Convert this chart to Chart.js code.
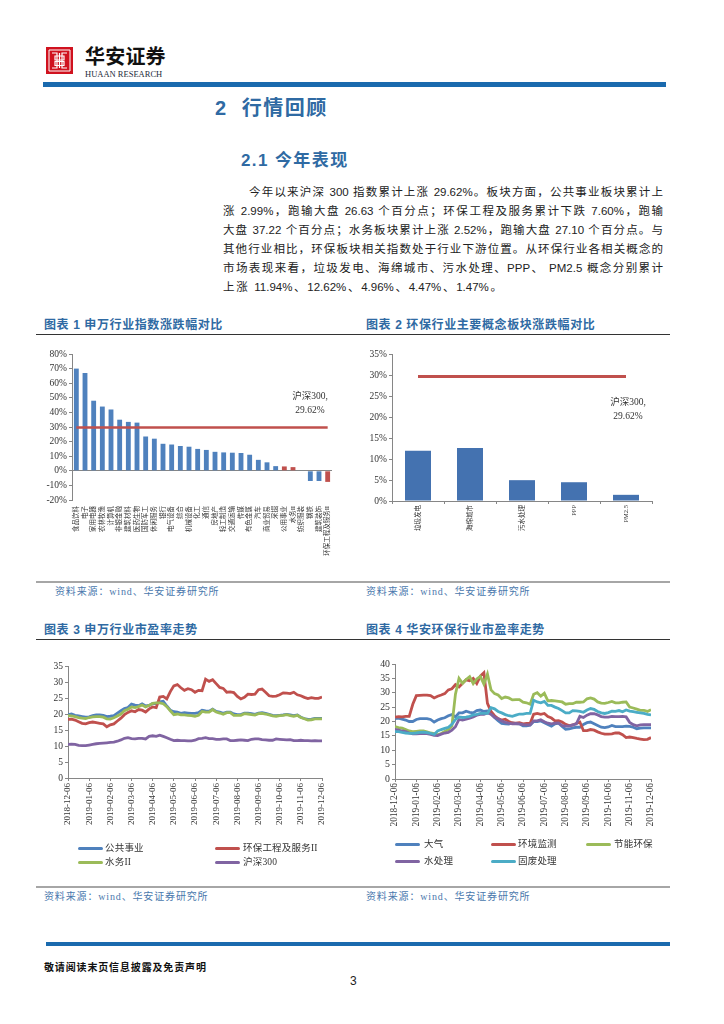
<!DOCTYPE html>
<html lang="zh"><head><meta charset="utf-8">
<script src="https://cdn.jsdelivr.net/npm/chart.js@4"></script>
<style>
html,body{margin:0;padding:0;background:#fff;width:724px;height:1024px;overflow:hidden}
body{position:relative;font-family:"Liberation Sans","Noto Sans CJK SC",sans-serif}
.a{position:absolute;white-space:nowrap}
canvas.c{position:absolute}
.band{position:absolute;background:#1a6aae}
.cap{position:absolute;white-space:nowrap;font:bold 12px "Liberation Sans","Noto Sans CJK SC";color:#2f6aa3;letter-spacing:.6px;line-height:14px}
.rule{position:absolute;height:1px;background:#333}
.grule{position:absolute;height:2px;background:#a6a6a6}
.src{position:absolute;white-space:nowrap;font:10px "Liberation Serif","Noto Sans CJK SC";color:#4a78ad;letter-spacing:.85px;line-height:12px}
.ln{position:absolute;font:11.5px/16px "Liberation Sans","Noto Sans CJK SC";color:#222;text-align:justify;text-align-last:justify;white-space:normal}
.note{position:absolute;font:9.5px/13.5px "Liberation Serif","Noto Sans CJK SC";color:#333;text-align:center;transform:translateX(-50%);white-space:nowrap}
.lg{position:absolute;white-space:nowrap;font:9.5px/12px "Liberation Serif","Noto Sans CJK SC";color:#333;letter-spacing:.2px}
.sw{position:absolute;height:3px;border-radius:1.5px}
</style></head><body>

<svg class="a" style="left:46px;top:47px" width="27" height="27" viewBox="0 0 27 27">
<rect width="27" height="27" fill="#d0121f"/>
<g fill="none" stroke="#fff" stroke-width="1.2">
<path d="M3 3H24V24H3Z" stroke-width="1"/>
<path d="M6 6H11V21H6M21 6H16V21H21"/>
<path d="M9 9H18V13H9ZM9 14.5H18V18.5H9ZM13.5 6V21"/>
</g></svg>
<div class="a" style="left:85px;top:44px;font:bold 20px/24px 'Noto Sans CJK SC';letter-spacing:.2px;color:#111">华安证券</div>
<div class="a" style="left:85px;top:69px;font:8.5px/10px 'Liberation Serif';color:#1d2a3a">HUAAN RESEARCH</div>
<div class="band" style="left:43px;top:82px;width:623px;height:5px"></div>

<div class="a" style="left:215px;top:96px;font:bold 20px/24px 'Liberation Sans','Noto Sans CJK SC';color:#2f6aa3;letter-spacing:1.5px">2&nbsp;&nbsp;行情回顾</div>
<div class="a" style="left:241px;top:150px;font:bold 17px/22px 'Liberation Sans','Noto Sans CJK SC';color:#2f6aa3;letter-spacing:1.4px">2.1 今年表现</div>

<div class="ln" style="left:249px;top:184px;width:414px">今年以来沪深 300 指数累计上涨 29.62%。板块方面，公共事业板块累计上</div>
<div class="ln" style="left:223px;top:203px;width:440px">涨 2.99%，跑输大盘 26.63 个百分点；环保工程及服务累计下跌 7.60%，跑输</div>
<div class="ln" style="left:223px;top:222px;width:440px">大盘 37.22 个百分点；水务板块累计上涨 2.52%，跑输大盘 27.10 个百分点。与</div>
<div class="ln" style="left:223px;top:241px;width:440px">其他行业相比，环保板块相关指数处于行业下游位置。从环保行业各相关概念的</div>
<div class="ln" style="left:223px;top:260px;width:440px">市场表现来看，垃圾发电、海绵城市、污水处理、PPP、 PM2.5 概念分别累计</div>
<div class="ln" style="left:223px;top:279px;width:279px">上涨 11.94%、12.62%、4.96%、4.47%、1.47%。</div>

<div class="cap" style="left:44px;top:318px">图表 1 申万行业指数涨跌幅对比</div>
<div class="cap" style="left:366px;top:318px">图表 2 环保行业主要概念板块涨跌幅对比</div>
<div class="rule" style="left:36px;top:334px;width:634px"></div>
<div class="grule" style="left:36px;top:581px;width:634px"></div>
<div class="src" style="left:55px;top:586px">资料来源：wind、华安证券研究所</div>
<div class="src" style="left:366px;top:586px">资料来源：wind、华安证券研究所</div>

<div class="cap" style="left:44px;top:623px">图表 3 申万行业市盈率走势</div>
<div class="cap" style="left:366px;top:623px">图表 4 华安环保行业市盈率走势</div>
<div class="rule" style="left:36px;top:639px;width:634px"></div>
<div class="grule" style="left:36px;top:886px;width:634px"></div>
<div class="src" style="left:44px;top:891px">资料来源：wind、华安证券研究所</div>
<div class="src" style="left:366px;top:891px">资料来源：wind、华安证券研究所</div>

<canvas class="c" id="c1"></canvas>
<canvas class="c" id="c2"></canvas>
<canvas class="c" id="c3"></canvas>
<canvas class="c" id="c4"></canvas>

<div class="note" style="left:310px;top:390px">沪深300,<br>29.62%</div>
<div class="note" style="left:628px;top:396px">沪深300,<br>29.62%</div>

<div id="leg"></div>

<div class="band" style="left:46px;top:942px;width:624px;height:4px"></div>
<div class="a" style="left:44px;top:960px;font:bold 10px/14px 'Noto Sans CJK SC';letter-spacing:.85px;color:#111">敬请阅读末页信息披露及免责声明</div>
<div class="a" style="left:350px;top:973px;font:12px/16px 'Liberation Sans';color:#222">3</div>

<script>
const serif='"Liberation Serif","Noto Sans CJK SC"';
const axisGrey='#868686', textCol='#333';
const BLUE='#4f81bd', RED='#c0504d', GREEN='#9bbb59', PURPLE='#8064a2', TEAL='#4bacc6';

/* chart 1 */
const industries=['食品饮料','电子','家用电器','农林牧渔','计算机','非银金融','建筑材料','医药生物','国防军工','休闲服务','银行','电气设备','综合','机械设备','化工','通信','房地产','轻工制造','交通运输','传媒','有色金属','汽车','商业贸易','采掘','公用事业','水务II','纺织服装','钢铁','建筑装饰','环保工程及服务II'];
const industryChange=[70,67,48,44,42,35,33.5,33,23.5,22,18.5,18,17,16.5,15,14.3,13,12.6,12.4,12.2,11,7.5,5.8,3.2,2.99,2.52,0.3,-7,-7,-7.6];
const highlighted=['公用事业','水务II','环保工程及服务II'];
const hs300Change=29.62;

/* chart 2 */
const concepts=['垃圾发电','海绵城市','污水处理','PPP','PM2.5'];
const conceptChange=[11.94,12.62,4.96,4.47,1.47];

/* charts 3 and 4: six readings per month, 2018-12-06 to 2019-12-06 */
const months=['2018-12-06','2019-01-06','2019-02-06','2019-03-06','2019-04-06','2019-05-06','2019-06-06','2019-07-06','2019-08-06','2019-09-06','2019-10-06','2019-11-06','2019-12-06'];

const peUtilities=[19.8,20,19.6,19.4,19.2,19, 19.1,19.5,19.7,19.7,19.6,19.2, 19.3,19.5,20.3,21,21.7,22, 23.1,22.8,22.6,23.2,22.5,22.7, 23.3,23.2,23.8,24,22.5,21.2, 20.7,20.6,20.2,20.4,20.3,20.2, 20.2,20.4,21.2,21,20.9,21.5, 20.8,20.6,20.2,20.6,20.6,20, 19.8,19.8,20.3,20.3,20.1,19.9, 20.3,20.4,20.2,19.9,19.6,19.5, 19.6,19.7,19.9,19.7,19.5,19.7, 19,18.6,18.3,18.4,18.6,18.6,18.6];
const peEnvEng=[18.3,18.4,18.1,17.6,17.1,16.9, 17.3,17.5,17.3,17.1,16.9,16, 16.6,16.9,17.8,18.7,19.8,20.5, 21,20.7,21.4,21.2,20.6,21.6, 22.2,22,25.3,25.5,24.7,27, 28.8,29.2,28.2,27.4,27.9,27.6, 26.8,27.4,27.3,30.9,30.2,30.7, 29.5,28.3,28,26.8,26.9,26.7, 25.5,24.7,25.2,26.2,26.1,26.2, 27.6,27.8,26.8,25.7,25.5,25.6, 26,26.6,26.5,26.4,26.8,26, 25.7,25.2,24.8,25.1,24.9,24.9,25.3];
const peWater=[19.5,19.4,19.2,18.9,18.7,18.6, 18.9,19.1,19.2,19.2,19,18.5, 18.4,18.8,19.4,20,21,21.5, 22.2,22,22.3,22.8,22.2,22.7, 23.3,23.5,23.5,23.2,22.3,21, 19.8,20,19.7,19.7,19.6,19.5, 19.3,19.6,20.8,20.6,20.6,21.4, 20.6,20.3,19.9,20.4,20.4,19.6, 19.6,19.6,20.1,20,19.8,19.7, 20.1,20.2,20,19.7,19.4,19.3, 19.5,19.6,19.8,19.5,19.3,19.6, 18.9,18.5,18.1,18.2,18.5,18.5,18.5];
const peHs300=[10.5,10.6,10.5,10.2,10.1,10.1, 10.3,10.5,10.7,10.8,10.9,11, 11.1,11.2,11.5,11.9,12.4,12.6, 12.3,12.2,12.4,12.4,12.2,13, 13.2,13,13.4,13,12.6,12.1, 11.7,11.8,11.7,11.7,11.6,11.6, 11.8,12.3,12.4,12.6,12.3,12.3, 12.1,12.1,12.2,12.2,11.7,11.7, 11.8,11.9,11.8,11.7,12.1,12.2, 12.2,12,11.9,11.8,11.8,12.2, 12.1,12,11.9,12,11.7,11.7, 11.8,11.7,11.7,11.6,11.7,11.6,11.6];

const peAir=[21,21.2,20.8,20.5,20,20, 20.7,21,21,21,20.7,19.8, 20.5,21,21.3,22,22.4,21.6, 23,23,23.6,23.2,23,23.8, 24,23.5,23.7,22.8,21.4,20.3, 19.3,19.2,19.1,19.5,19.3,19.2, 18.5,18.5,18.7,20,20,20.2, 19.6,19,18.4,19.2,19.4,18.3, 17.3,17.4,17.8,18,18,19, 19.6,19.8,19.2,18.6,18,17.9, 18.1,18.6,18.2,18.2,18.2,18.4, 18.3,18,17.5,17.7,17.8,17.8,17.8];
const peMonitor=[21.5,21.7,21.6,21.8,21.8,26, 29,29.1,29.2,29.2,29,28.2, 28.8,29.2,29.7,31,31.4,32.8, 32,33.3,34.5,34.2,35,33.2, 35.8,37,26.3,23.5,22,21, 20.5,20.8,20,19.5,19.4,19.6, 19.2,19.3,19.3,22.5,22.8,22.5, 22.8,21.7,21.2,20.2,20.3,19.8, 19,18.6,18.8,19.3,19.8,16.8, 16.8,17.2,17,16.4,15.9,15.6, 15.6,15.7,16,16,15.4,14.4, 14.6,14.4,14.1,13.9,13.7,13.8,14.4];
const peEnergy=[18.2,17.9,17.7,17.2,16.7,16.5, 16.6,16.7,16.7,16.4,16,15.8, 15.4,15.8,16.5,17.2,18.5,29.5, 35,33.3,34.6,35.6,33.2,34.8, 35.7,33,36.5,31,29.7,29.2, 28,28.5,28.2,27.5,27.6,27.6, 26.7,26.5,26,29.5,30,28.8, 29.8,27.2,27.3,27.2,27,26.8, 26,26.2,26.2,26.7,26.7,26.8, 27.9,28.2,27.8,26.8,26.4,26.3, 26.6,27,26.5,26.5,26.7,26.8, 25,24.7,24.3,23.9,23.9,23.5,24.1];
const peWaterTreat=[17.3,17,16.7,16.5,16,15.7, 15.7,15.8,15.9,15.8,15.5,15.2, 15.1,15.6,16,16.2,17,18.2, 20.7,20.5,20.8,21.2,21.6,22.2, 22.5,22.5,23,22.5,21.5,21, 20.2,19.7,19.4,19.2,19.3,19.2, 18.9,18.8,18.8,20.2,20.2,20.6, 19.9,19.4,19.2,19.4,19.5,18.6, 18.4,18.4,18.8,19.2,21.8,21.4, 22.2,22.7,22.7,22.3,21.7,21.5, 21.5,21.8,21.7,21.7,21.8,21.6, 19.7,18.9,18.5,18.8,18.9,18.9,18.9];
const peSolidWaste=[16.5,16.5,16.2,16,15.9,15.9, 16,16.2,16.3,16.1,15.9,15.5, 16.7,17.2,17.6,18,19,20.7, 21.6,21.4,21.5,21.8,22.3,22.5, 22.8,22.8,22.8,24.8,24.4,23.5, 23,22.4,22,21.8,22.2,22.6, 22.6,22.8,22.8,27.4,26.8,26.5, 27,25.6,25.6,25,24.5,23.8, 23,23,23.8,23.7,23.5,23.2, 24,24.5,24.2,23.5,23,22.8, 23.1,23.6,23.5,23.8,23.4,24, 23.6,23.4,23.2,23,22.8,22.5,22.3];

const lineSets3=[['公共事业',peUtilities,BLUE],['环保工程及服务II',peEnvEng,RED],['水务II',peWater,GREEN],['沪深300',peHs300,PURPLE]];
const lineSets4=[['大气',peAir,BLUE],['环境监测',peMonitor,RED],['节能环保',peEnergy,GREEN],['水处理',peWaterTreat,PURPLE],['固废处理',peSolidWaste,TEAL]];

/* frame: plot-area rectangle on the page; the canvas is that rectangle plus fixed margins */
const M={l:34,t:10,r:8,b:72};
function frame(id,x0,y0,x1,y1){
  const left=x0-M.l, top=y0-M.t, w=x1-x0+M.l+M.r, h=y1-y0+M.t+M.b;
  const c=document.getElementById(id);
  c.style.left=left+'px';c.style.top=top+'px';c.style.width=w+'px';c.style.height=h+'px';
  c.width=w;c.height=h;return c;
}
const pinY=s=>{s.width=M.l;s.paddingTop=0;s.paddingBottom=0};
const pinX=s=>{s.height=M.b;s.paddingLeft=0;s.paddingRight=0};
const yTicks=(size,cb)=>({color:textCol,font:{family:serif,size:size},padding:2,autoSkip:false,callback:cb});
function common(extra){
  return Object.assign({responsive:false,animation:false,maintainAspectRatio:false,
    layout:{padding:{top:M.t,right:M.r,left:0,bottom:0}},
    plugins:{legend:{display:false},tooltip:{enabled:false}}},extra);
}

/* chart 1 */
new Chart(frame('c1',72,354,332,500),{
  type:'bar',
  data:{labels:industries,datasets:[
    {type:'line',data:industries.map(()=>hs300Change),borderColor:RED,borderWidth:2.6,pointRadius:0,order:0},
    {type:'bar',data:industryChange,order:1,barPercentage:.56,categoryPercentage:1,
     backgroundColor:industries.map(n=>highlighted.includes(n)?RED:BLUE)}
  ]},
  options:common({scales:{
    x:{grid:{display:false,drawTicks:false},border:{display:false},afterFit:pinX,
       ticks:{autoSkip:false,minRotation:90,maxRotation:90,padding:6,color:textCol,font:{family:serif,size:6.5}}},
    y:{min:-20,max:80,afterFit:pinY,border:{color:axisGrey},
       grid:{color:c=>c.tick.value===0?axisGrey:'transparent',tickColor:axisGrey,tickLength:3},
       ticks:Object.assign(yTicks(9.5,v=>v+'%'),{stepSize:10})}
  }})
});

/* chart 2 */
new Chart(frame('c2',392,354,652,501),{
  type:'bar',
  data:{labels:concepts,datasets:[
    {type:'line',data:concepts.map(()=>hs300Change),borderColor:RED,borderWidth:3,pointRadius:0,order:0},
    {type:'bar',data:conceptChange,order:1,barPercentage:.5,categoryPercentage:1,backgroundColor:'#4472b0'}
  ]},
  options:common({scales:{
    x:{border:{color:axisGrey},grid:{drawOnChartArea:false,tickColor:axisGrey,tickLength:3},afterFit:pinX,
       ticks:{autoSkip:false,minRotation:90,maxRotation:90,padding:1,color:textCol,font:{family:serif,size:6.5}}},
    y:{min:0,max:35,afterFit:pinY,border:{color:axisGrey},
       grid:{drawOnChartArea:false,tickColor:axisGrey,tickLength:3},
       ticks:Object.assign(yTicks(9.5,v=>v+'%'),{stepSize:5})}
  }})
});

/* charts 3 and 4 */
function lineChart(id,x0,y0,x1,y1,sets,yMax,pad,tickSize){
  const perMonth=(sets[0][1].length-1)/(months.length-1);
  new Chart(frame(id,x0,y0,x1,y1),{
    type:'line',
    data:{datasets:sets.map((s,i)=>({label:s[0],data:s[1].map((v,k)=>({x:k,y:v})),borderColor:s[2],
      borderWidth:2.8,pointRadius:0,tension:0,order:-i}))},
    options:common({scales:{
      x:{type:'linear',min:0,max:sets[0][1].length-1,
         border:{color:axisGrey},grid:{drawOnChartArea:false,tickColor:axisGrey,tickLength:3},afterFit:pinX,
         ticks:{stepSize:perMonth,autoSkip:false,includeBounds:false,minRotation:90,maxRotation:90,padding:pad,color:textCol,
                font:{family:serif,size:tickSize},callback:v=>months[v/perMonth]}},
      y:{min:0,max:yMax,afterFit:pinY,border:{color:axisGrey},
         grid:{drawOnChartArea:false,tickColor:axisGrey,tickLength:3},
         ticks:Object.assign(yTicks(tickSize+.5,v=>String(v)),{stepSize:5})}
    }})
  });
}
lineChart('c3',68,666,322,778,lineSets3,35,2,9);
lineChart('c4',395,664,651,779,lineSets4,40,1,9.3);

/* legends */
function legendItem(set,x,y,tx){
  const leg=document.getElementById('leg');
  const s=document.createElement('div');s.className='sw';
  s.style.cssText+=`left:${x}px;top:${y-1.5}px;width:25px;background:${set[2]}`;
  const t=document.createElement('div');t.className='lg';t.textContent=set[0];
  t.style.left=tx+'px';t.style.top=(y-6)+'px';
  leg.append(s,t);
}
legendItem(lineSets3[0],78,848,105);
legendItem(lineSets3[1],215,848,243);
legendItem(lineSets3[2],78,862,105);
legendItem(lineSets3[3],215,862,243);
legendItem(lineSets4[0],395,844,424);
legendItem(lineSets4[1],491,844,518);
legendItem(lineSets4[2],586,844,614);
legendItem(lineSets4[3],395,861,424);
legendItem(lineSets4[4],491,861,518);
</script>
</body></html>
